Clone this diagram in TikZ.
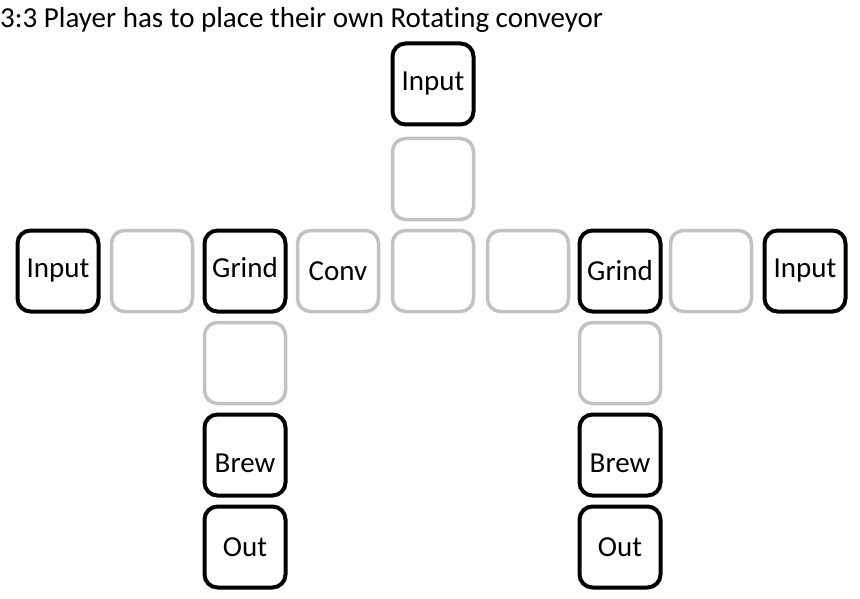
\documentclass[tikz,border=0pt]{standalone}
\usepackage{fontspec}
\setmainfont{Carlito}[Ligatures=NoCommon]
\usepackage{tikz}
\newcommand{\cellfont}{\fontsize{29}{34}\selectfont}

\begin{document}
\begin{tikzpicture}[x=1pt,y=-1pt]
    \tikzset{cell/.style={draw=black, line width=4pt, rounded corners=13pt,
        minimum size=81pt, inner sep=0pt, font=\cellfont}}
    \tikzset{free/.style={cell, draw=black!24, line width=3.5pt}}
    \tikzset{every label/.style={font=\cellfont, inner sep=0pt}}
    \useasboundingbox (0,0) rectangle (860,599);
    \node[anchor=base west, inner sep=0pt, font=\cellfont] (title) at (0,28)
      {3:3 Player has to place their own Rotating conveyor};
    % top arm
    \node[cell] (inTop) at (433,84) {Input};
    \node[free] (gapTop) at (433,179) {};
    % middle row
    \node[cell] (inL) at (58,271) {Input};
    \node[free] (gapL) at (152,271) {};
    \node[cell, label={[yshift=3pt]center:Grind}] (grindL) at (245,271) {};
    \node[free] (conv) at (338,271) {Conv};
    \node[free] (hub) at (433,271) {};
    \node[free] (gapR) at (528,271) {};
    \node[cell] (grindR) at (620,271) {Grind};
    \node[free] (gapRR) at (711,271) {};
    \node[cell] (inR) at (805,271) {Input};
    % left arm down
    \node[free] (gapLd) at (245,363) {};
    \node[cell, label={[yshift=-8pt]center:Brew}] (brewL) at (245,455) {};
    \node[cell] (outL) at (245,547) {Out};
    % right arm down
    \node[free] (gapRd) at (620,363) {};
    \node[cell, label={[yshift=-8pt]center:Brew}] (brewR) at (620,455) {};
    \node[cell] (outR) at (620,547) {Out};
\end{tikzpicture}
\end{document}
